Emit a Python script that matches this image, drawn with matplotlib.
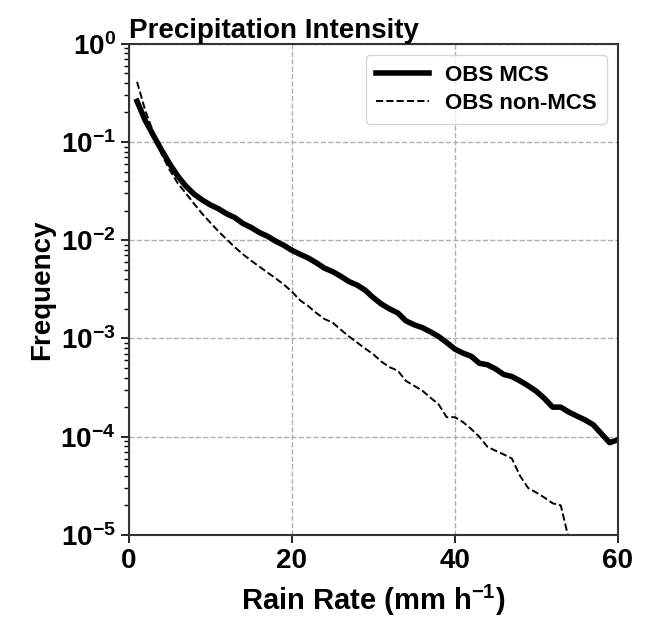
import matplotlib
matplotlib.use("Agg")
import matplotlib.pyplot as plt
import numpy as np

plt.rcParams["font.family"] = "Liberation Sans"
plt.rcParams["font.weight"] = "bold"
plt.rcParams["mathtext.fontset"] = "custom"
plt.rcParams["mathtext.rm"] = "Liberation Sans:bold"
plt.rcParams["mathtext.it"] = "Liberation Sans:bold"
plt.rcParams["mathtext.bf"] = "Liberation Sans:bold"
plt.rcParams["mathtext.default"] = "regular"

# rain rate bins (mm/h)
rain_rate = np.arange(1, 61)

# frequency of MCS precipitation
freq_mcs = [2.6e-1, 1.66e-1, 1.17e-1, 8.3e-2, 6.0e-2, 4.5e-2, 3.55e-2, 2.95e-2, 2.57e-2, 2.29e-2,
            2.09e-2, 1.86e-2, 1.70e-2, 1.48e-2, 1.35e-2, 1.20e-2, 1.10e-2, 9.8e-3, 8.9e-3, 7.9e-3,
            7.2e-3, 6.6e-3, 5.9e-3, 5.2e-3, 4.8e-3, 4.3e-3, 3.8e-3, 3.5e-3, 3.1e-3, 2.6e-3,
            2.24e-3, 2.0e-3, 1.82e-3, 1.51e-3, 1.38e-3, 1.29e-3, 1.17e-3, 1.05e-3, 9.1e-4, 7.8e-4,
            7.1e-4, 6.6e-4, 5.6e-4, 5.4e-4, 4.9e-4, 4.3e-4, 4.1e-4, 3.7e-4, 3.3e-4, 2.9e-4,
            2.45e-4, 2.0e-4, 2.0e-4, 1.78e-4, 1.62e-4, 1.48e-4, 1.32e-4, 1.07e-4, 8.7e-5, 9.3e-5]

# frequency of non-MCS precipitation (no samples above 54 mm/h)
freq_nonmcs = [4.1e-1, 2.1e-1, 1.26e-1, 7.6e-2, 5.2e-2, 3.8e-2, 3.0e-2, 2.35e-2, 1.86e-2, 1.51e-2,
               1.23e-2, 1.02e-2, 8.5e-3, 7.2e-3, 6.2e-3, 5.4e-3, 4.7e-3, 4.1e-3, 3.55e-3, 3.0e-3,
               2.45e-3, 2.14e-3, 1.82e-3, 1.58e-3, 1.45e-3, 1.23e-3, 1.05e-3, 9.1e-4, 7.9e-4, 6.9e-4,
               5.8e-4, 5.1e-4, 4.7e-4, 3.7e-4, 3.3e-4, 2.95e-4, 2.5e-4, 2.14e-4, 1.58e-4, 1.58e-4,
               1.41e-4, 1.20e-4, 1.0e-4, 7.9e-5, 7.2e-5, 6.6e-5, 6.0e-5, 4.0e-5, 3.0e-5, 2.7e-5,
               2.4e-5, 2.1e-5, 2.0e-5, 9e-6, np.nan, np.nan, np.nan, np.nan, np.nan, np.nan]

fig = plt.figure(figsize=(6.51, 6.17), dpi=100)
ax = fig.add_axes([0.198, 0.133, 0.751, 0.796])

ax.plot(rain_rate, freq_mcs, color="black", lw=4, label="OBS MCS")
ax.plot(rain_rate, freq_nonmcs, color="black", lw=1.4, ls="--", label="OBS non-MCS")

ax.set_yscale("log")
ax.set_xlim(0, 60)
ax.set_ylim(1e-5, 1)
ax.set_xticks([0, 20, 40, 60])
ax.grid(True, which="major", ls="--", color="#b0b0b0", lw=1)

ax.tick_params(axis="both", which="major", labelsize=20, length=6, width=1.2)
ax.tick_params(axis="y", which="minor", length=3.5, width=1)
for s in ax.spines.values():
    s.set_linewidth(1.5)
    s.set_color("#333333")

ax.set_xlabel("Rain Rate (mm h$^{-1}$)", fontsize=21, fontweight="bold", labelpad=6)
ax.set_ylabel("Frequency", fontsize=20, fontweight="bold")
ax.set_title("Precipitation Intensity", fontsize=20, fontweight="bold", loc="left", pad=4)

ax.legend(loc="upper right", fontsize=16, handlelength=2.4, handletextpad=0.7,
          borderpad=0.45, labelspacing=0.3, frameon=True, fancybox=True, edgecolor="#cccccc")

fig.savefig("out.png", dpi=100)
